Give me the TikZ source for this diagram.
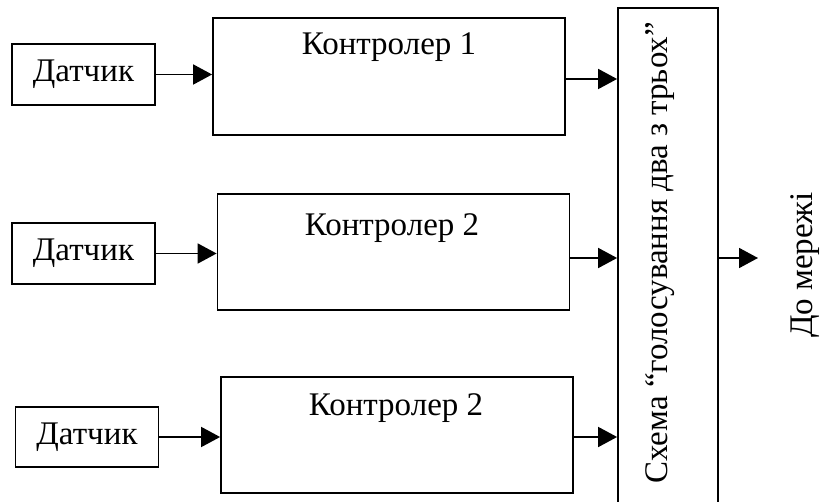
\documentclass[tikz,border=0pt]{standalone}
\usepackage{fontspec}
\setmainfont{Liberation Serif}
\usetikzlibrary{arrows.meta,calc}
\begin{document}
\begin{tikzpicture}[x=1pt,y=-1pt,
  box/.style={draw,line width=1.8pt,inner sep=0pt,anchor=center},
  lbl/.style={inner sep=0pt,font=\fontsize{33}{39}\selectfont},
  arr/.style={line width=1.8pt,-{Triangle[length=19pt,width=20pt]}}]
\useasboundingbox (0,0) rectangle (824,502);
\begin{scope}
\clip (0,0) rectangle (824,502);
% sensors
\node[box,minimum width=143pt,minimum height=61pt,font=\fontsize{33}{39}\selectfont] (d1) at (83.5,74.5) {Датчик};
\node[box,minimum width=143pt,minimum height=61pt,font=\fontsize{33}{39}\selectfont] (d2) at (83.5,253.5) {Датчик};
\node[box,minimum width=143pt,minimum height=60pt,font=\fontsize{33}{39}\selectfont] (d3) at (87,437) {Датчик};
% controllers
\node[box,minimum width=352pt,minimum height=117pt] (k1) at (389,76.5) {};
\node[box,minimum width=352pt,minimum height=116pt] (k2) at (393.5,252) {};
\node[box,minimum width=352pt,minimum height=116pt] (k3) at (397,435) {};
\node[lbl] (k1t) at (389,47) {Контролер 1};
\node[lbl] (k2t) at (392,228) {Контролер 2};
\node[lbl] (k3t) at (396,408) {Контролер 2};
% voting
\node[box,minimum width=100pt,minimum height=504pt] (v) at (668,260) {};
\node[lbl,rotate=90] (vt) at (660,253) {Схема “голосування два з трьох”};
% output
\coordinate (out) at (758,258);
\node[lbl,rotate=90] (net) at (805,265) {До мережі};
% arrows
\draw[arr] (d1.east) -- (d1.east -| k1.west);
\draw[arr] (d2.east) -- (d2.east -| k2.west);
\draw[arr] (d3.east) -- (d3.east -| k3.west);
\draw[arr] ([yshift=-2.5pt]k1.east) -- ([yshift=-2.5pt]k1.east -| v.west);
\draw[arr] ([yshift=-6pt]k2.east) -- ([yshift=-6pt]k2.east -| v.west);
\draw[arr] ([yshift=-2pt]k3.east) -- ([yshift=-2pt]k3.east -| v.west);
\draw[arr] (v.east |- out) -- (out);
\end{scope}
\end{tikzpicture}
\end{document}
